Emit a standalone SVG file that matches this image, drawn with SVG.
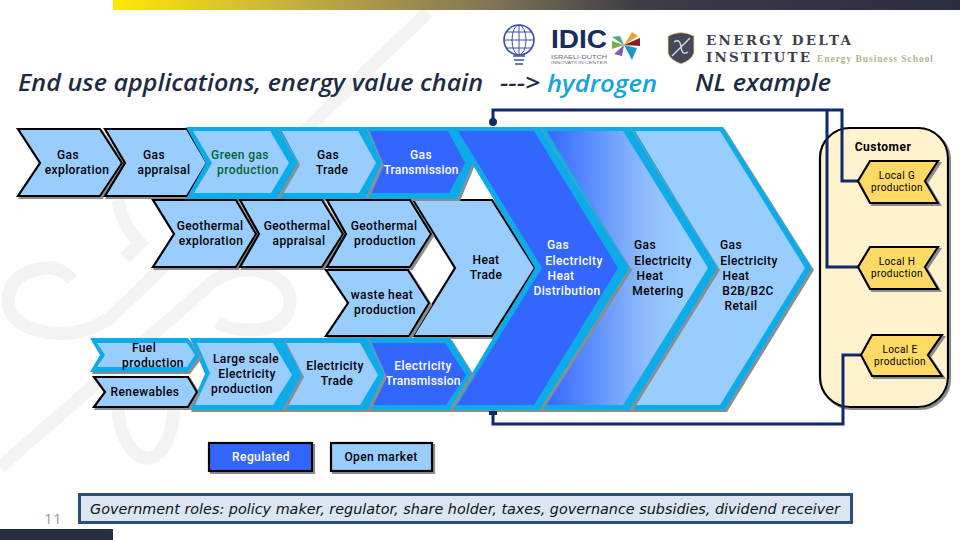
<svg xmlns="http://www.w3.org/2000/svg" width="960" height="540" viewBox="0 0 960 540">
<defs>
<linearGradient id="topbar" x1="113" x2="960" y1="0" y2="0" gradientUnits="userSpaceOnUse">
<stop offset="0" stop-color="#ffe800"/><stop offset="0.2" stop-color="#c9b23f"/><stop offset="0.45" stop-color="#7f7456"/><stop offset="0.62" stop-color="#3d3b47"/><stop offset="1" stop-color="#2a2c40"/>
</linearGradient>
<linearGradient id="meter" x1="545" x2="680" y1="0" y2="0" gradientUnits="userSpaceOnUse">
<stop offset="0" stop-color="#3366ff"/><stop offset="0.75" stop-color="#8fbdfb"/><stop offset="1" stop-color="#99ccff"/>
</linearGradient>
<filter id="sh" x="-10%" y="-10%" width="120%" height="120%"><feDropShadow dx="2" dy="2" stdDeviation="0.4" flood-color="#8c8c8c"/></filter>
</defs>
<style>
text{font-family:Roboto,sans-serif;font-weight:500;font-size:12px;letter-spacing:0.4px;fill:#000;text-anchor:middle}
.w{fill:#fff}
.gr{fill:#006633}
.sm{font-size:10px;font-weight:400;letter-spacing:0.4px}
.cu{font-size:12px;font-weight:700;letter-spacing:0.5px}
.title{font-family:"Open Sans",sans-serif;font-style:italic;font-weight:600;font-size:24px;letter-spacing:0;fill:#1d2b45;text-anchor:start}
.gov{font-family:"DejaVu Sans",sans-serif;font-style:italic;font-weight:400;font-size:13.5px;letter-spacing:0;text-anchor:start;fill:#111}
.blk{fill:#99ccff;stroke:#000;stroke-width:2.2;stroke-linejoin:miter;filter:url(#sh)}
.cy{fill:#0dace8;filter:url(#sh)}
.lt{fill:#99ccff}
.bl{fill:#3366ff}
.loc{fill:#ffd966;stroke:#000;stroke-width:2.2;filter:url(#sh)}
.wm{fill:none;stroke:#f3f3f3;stroke-width:13}
.con{fill:none;stroke:#0f2a6b;stroke-width:3}
.serif{font-family:"DejaVu Serif",serif;font-weight:bold;letter-spacing:0;text-anchor:start;fill:#3d3f4d}
.logo{font-family:"Liberation Sans",sans-serif;letter-spacing:0;text-anchor:start}
</style>
<rect width="960" height="540" fill="#fff"/>
<g id="watermark">
<path class="wm" d="M428 12L110 318Q80 338 45 332Q8 325 8 300Q10 272 45 268Q60 266 72 280"/>
<path class="wm" d="M0 467L215 280Q235 268 255 270Q292 278 290 305Q285 330 250 330Q230 330 217 322"/>
<path class="wm" d="M118 200Q122 225 140 243L125 258"/>
<path class="wm" d="M118 410C120 440 135 458 147 458C160 458 172 440 174 410"/>
</g>
<rect id="topband" x="113" y="0" width="847" height="10" fill="url(#topbar)"/>
<rect id="bottomband" x="0" y="529" width="113" height="11" fill="#2a2c40"/>
<text x="53" y="524" style="font-family:'Open Sans',sans-serif;font-weight:400;font-size:15px;fill:#9a9a9a">11</text>
<g id="logo-idic">
<circle cx="519" cy="40" r="15" fill="none" stroke="#3a4fa8" stroke-width="1.6"/>
<ellipse cx="519" cy="40" rx="7" ry="15" fill="none" stroke="#3a4fa8" stroke-width="1"/>
<path d="M504 40H534M507 32H531M507 48H531M519 25V55" fill="none" stroke="#3a4fa8" stroke-width="1"/>
<path d="M513 56H525M514 60H524M515 64H523" stroke="#3a4fa8" stroke-width="1.4"/>
<text class="logo" x="551" y="48" style="font-weight:bold;font-size:25px;fill:#1a2c5b" textLength="56" lengthAdjust="spacingAndGlyphs">IDIC</text>
<text class="logo" x="551" y="59" style="font-weight:400;font-size:5.5px;fill:#6a6f80" textLength="56" lengthAdjust="spacingAndGlyphs">ISRAELI-DUTCH</text>
<text class="logo" x="551" y="64" style="font-weight:400;font-size:4px;fill:#6a6f80" textLength="56" lengthAdjust="spacingAndGlyphs">INNOVATION CENTER</text>
<polygon points="624,45 632,32 638,36" fill="#f0a030"/>
<polygon points="624,45 640,38 640,46" fill="#8a1c28"/>
<polygon points="624,45 632,60 637,48" fill="#2196c8"/>
<polygon points="624,45 622,56 614,54" fill="#7d5bb5"/>
<polygon points="624,45 612,49 612,41" fill="#7fae4a"/>
<polygon points="624,45 612,37 620,36" fill="#3fae7a"/>
</g>
<g id="logo-edi">
<path d="M668 36Q681 29 694 36V53Q692 60 681 64Q670 60 668 53Z" fill="#44485a" stroke="#e8e07a" stroke-width="0.8"/>
<path d="M672 56L690 38M674 42Q680 38 681 47Q682 56 688 52" fill="none" stroke="#d8d8de" stroke-width="1.4"/>
<text class="serif" x="706" y="45" style="font-size:13.5px" textLength="145">ENERGY DELTA</text>
<text class="serif" x="706" y="62" style="font-size:13.5px" textLength="104">INSTITUTE</text>
<text class="serif" x="817" y="62" style="font-family:'Liberation Serif',serif;font-size:9.5px;fill:#b4b58a" textLength="116">Energy Business School</text>
</g>
<g id="title">
<text class="title" x="18" y="91" textLength="465" lengthAdjust="spacingAndGlyphs">End use applications, energy value chain</text>
<text class="title" x="500" y="91" textLength="40" lengthAdjust="spacingAndGlyphs">---&gt;</text>
<text class="title" x="547" y="92" style="fill:#13a5df" textLength="110" lengthAdjust="spacingAndGlyphs">hydrogen</text>
<text class="title" x="695" y="91" textLength="136" lengthAdjust="spacingAndGlyphs">NL example</text>
</g>
<g id="customer">
<rect x="820" y="128" width="128" height="279" rx="30" fill="#fff2cc" stroke="#000" stroke-width="2.2" filter="url(#sh)"/>
<text class="cu" x="883" y="151">Customer</text>
</g>
<g id="heat-trade">
<polygon class="blk" points="413,200 492,200 535,268 492,336 413,336 455,268"/>
<text x="486" y="264">Heat</text><text x="486" y="279">Trade</text>
</g>
<g id="gas-exploration">
<polygon class="blk" points="18,129 100,129 122,163 100,196 18,196 40,163"/>
<text x="68" y="159">Gas</text><text x="77" y="174">exploration</text>
</g>
<g id="gas-appraisal">
<polygon class="blk" points="105,129 187,129 207,163 187,196 105,196 125,163"/>
<text x="154" y="159">Gas</text><text x="164" y="174">appraisal</text>
</g>
<g id="gas-transmission">
<polygon class="cy" points="360,127 458,127 473,163 458,199 360,199 376,163"/>
<polygon class="bl" points="370,131 448,131 465,163 449,193 370,193 382,163"/>
<text class="w" x="421" y="159">Gas</text><text class="w" x="421" y="174" style="letter-spacing:0.2px">Transmission</text>
</g>
<g id="gas-trade">
<polygon class="cy" points="272,127 366,127 382,163 366,199 273,199 292,163"/>
<polygon class="lt" points="282,131 358,131 376,163 359,193 283,193 299,163"/>
<text x="328" y="159">Gas</text><text x="332" y="174">Trade</text>
</g>
<g id="green-gas-production">
<polygon class="cy" points="186,127 277,127 298,163 277,199 186,199 206,163"/>
<polygon class="lt" points="193,131 270,131 289,163 271,193 194,193 212,163"/>
<text class="gr" x="240" y="159">Green gas</text><text class="gr" x="248" y="174">production</text>
</g>
<g id="geothermal-exploration">
<polygon class="blk" points="153,200 236,200 256,234 236,267 153,267 174,234"/>
<text x="210" y="230">Geothermal</text><text x="211" y="245">exploration</text>
</g>
<g id="geothermal-appraisal">
<polygon class="blk" points="240,200 322,200 343,234 322,267 240,267 259,234"/>
<text x="297" y="230">Geothermal</text><text x="299" y="245">appraisal</text>
</g>
<g id="geothermal-production">
<polygon class="blk" points="327,200 410,200 431,234 410,267 327,267 346,234"/>
<text x="384" y="230">Geothermal</text><text x="385" y="245">production</text>
</g>
<g id="waste-heat-production">
<polygon class="blk" points="326,270 408,270 429,303 409,336 326,336 348,303"/>
<text x="382" y="299">waste heat</text><text x="385" y="314">production</text>
</g>
<g id="retail">
<polygon class="cy" points="623,127 723,127 812,268 725,410 623,410 707,268"/>
<polygon class="lt" points="635,131 720,131 805,268 720,405 634,405 718,268"/>
<text x="731" y="249">Gas</text><text x="749" y="265">Electricity</text><text x="736" y="280">Heat</text><text x="748" y="295">B2B/B2C</text><text x="741" y="310">Retail</text>
</g>
<g id="metering">
<polygon class="cy" points="533,127 630,127 718,268 630,410 533,410 620,268"/>
<polygon points="547,131 623,131 708,268 623,405 545,405 630,268" fill="url(#meter)"/>
<text x="645" y="249">Gas</text><text x="663" y="265">Electricity</text><text x="650" y="280">Heat</text><text x="658" y="295">Metering</text>
</g>
<g id="distribution">
<polygon class="cy" points="450,127 540,127 630,268 540,410 450,410 535,268"/>
<polygon class="bl" points="458,131 534,131 618,268 534,405 457,405 542,268"/>
<text class="w" x="558" y="249">Gas</text><text class="w" x="574" y="265">Electricity</text><text class="w" x="561" y="280">Heat</text><text class="w" x="567" y="295">Distribution</text>
</g>
<g id="electricity-transmission">
<polygon class="cy" points="360,338 450,338 472,373 450,410 360,410 378,375"/>
<polygon class="bl" points="372,343 445,343 466,375 446,405 370,405 385,375"/>
<text class="w" x="423" y="370">Electricity</text><text class="w" x="423" y="385" style="letter-spacing:0.2px">Transmission</text>
</g>
<g id="electricity-trade">
<polygon class="cy" points="274,338 368,338 385,375 368,410 274,410 292,375"/>
<polygon class="lt" points="283,343 360,343 378,375 360,405 283,405 302,375"/>
<text x="335" y="370">Electricity</text><text x="337" y="385">Trade</text>
</g>
<g id="large-scale-production">
<polygon class="cy" points="190,338 283,338 302,375 283,410 189,410 205,374"/>
<polygon class="lt" points="197,343 273,343 292,375 273,405 195,405 210,373"/>
<text x="246" y="363">Large scale</text><text x="247" y="378">Electricity</text><text x="242" y="393">production</text>
</g>
<g id="fuel-production">
<polygon class="cy" points="90,338 188,338 200,356 188,372 90,372 100,355"/>
<polygon class="lt" points="97,343 187,343 195,355 187,367 97,367 105,355"/>
<text x="144" y="352">Fuel</text><text x="153" y="367">production</text>
</g>
<g id="renewables">
<polygon class="blk" points="94,377 188,377 197,392 188,407 94,407 105,392"/>
<text x="145" y="396">Renewables</text>
</g>
<g id="regulated">
<rect class="blk" x="209" y="443" width="103" height="28" style="fill:#3366ff"/>
<text class="w" x="261" y="461">Regulated</text>
</g>
<g id="open-market">
<rect class="blk" x="331" y="443" width="101" height="28"/>
<text x="381" y="461">Open market</text>
</g>
<g id="government">
<rect x="79.5" y="494.5" width="772" height="28" fill="#dce6f2" stroke="#2c4f78" stroke-width="3"/>
<text class="gov" x="90" y="514" textLength="750" lengthAdjust="spacingAndGlyphs">Government roles: policy maker, regulator, share holder, taxes, governance subsidies, dividend receiver</text>
</g>
<g id="connectors">
<path class="con" d="M493 124V110H842V181H858"/>
<path class="con" d="M827 110V267H858"/>
<path class="con" d="M861 355H843V424H493V411"/>
<circle cx="493" cy="122" r="4" fill="#0f2a6b"/>
<rect x="489" y="411" width="8" height="4" fill="#0f2a6b"/>
</g>
<g id="local-g">
<polygon class="loc" points="858,181 870,161 938,161 925,181 938,203 870,203"/>
<text class="sm" x="897" y="179">Local G</text><text class="sm" x="897" y="191">production</text>
</g>
<g id="local-h">
<polygon class="loc" points="858,267 870,247 938,247 925,267 938,289 870,289"/>
<text class="sm" x="897" y="265">Local H</text><text class="sm" x="897" y="277">production</text>
</g>
<g id="local-e">
<polygon class="loc" points="861,355 872,335 942,335 928,355 942,376 872,376"/>
<text class="sm" x="900" y="353">Local E</text><text class="sm" x="900" y="365">production</text>
</g>
</svg>
